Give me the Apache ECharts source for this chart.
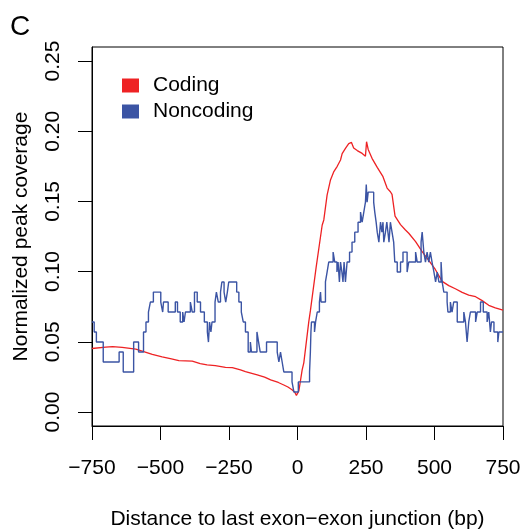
<!DOCTYPE html>
<html>
<head>
<meta charset="utf-8">
<script src="https://cdn.jsdelivr.net/npm/echarts@6/dist/echarts.min.js"></script>
<style>
  html, body { margin: 0; padding: 0; background: #fff; }
  #chart { width: 523px; height: 529px; }
</style>
</head>
<body>
<div id="chart"></div>
<script>
// x ticks and y ticks
const xTicks = [-750, -500, -250, 0, 250, 500, 750];
const yTicks = [0, 0.05, 0.1, 0.15, 0.2, 0.25];

// Coding: smooth profile, read at sample positions (bp)
const codingX = [-750, -700, -675, -640, -590, -567, -530, -494, -460, -433, -384, -355, -330, -300, -263, -238, -208, -190, -147, -120, -98, -70, -50, -35, -20, -10, -4, 0, 5, 17, 23, 41, 47, 68, 90, 96, 108, 120, 132, 145, 157, 163, 175, 187, 197, 205, 218, 236, 248, 252, 258, 272, 291, 312, 327, 339, 345, 352, 356, 376, 394, 406, 431, 455, 479, 503, 528, 552, 576, 601, 625, 650, 674, 698, 722, 750];
const codingY = [0.0452, 0.0462, 0.0466, 0.0460, 0.0448, 0.0434, 0.0410, 0.0392, 0.0378, 0.0366, 0.0362, 0.0345, 0.0335, 0.0330, 0.0318, 0.0316, 0.0299, 0.0288, 0.0264, 0.0248, 0.0228, 0.0210, 0.0192, 0.0178, 0.0158, 0.0140, 0.0118, 0.0108, 0.0150, 0.0300, 0.0350, 0.0640, 0.0720, 0.1030, 0.1330, 0.1368, 0.1545, 0.1650, 0.1710, 0.1750, 0.1795, 0.1840, 0.1878, 0.1912, 0.1920, 0.1880, 0.1862, 0.1842, 0.1822, 0.1925, 0.1870, 0.1807, 0.1742, 0.1676, 0.1595, 0.1569, 0.1550, 0.1545, 0.1395, 0.1335, 0.1296, 0.1273, 0.1213, 0.1142, 0.1080, 0.1015, 0.0930, 0.0900, 0.0878, 0.0852, 0.0833, 0.0821, 0.0793, 0.0760, 0.0742, 0.0726];

// Noncoding: step profile, x = where each level starts
const noncodingX = [-750, -742, -734, -709, -651, -636, -598, -580, -562, -553, -544, -537, -526, -499, -492, -489, -472, -446, -438, -428, -419, -414, -409, -391, -384, -376, -366, -354, -340, -329, -325, -321, -316, -312, -301, -296, -289, -281, -276, -268, -262, -256, -251, -222, -214, -205, -198, -190, -180, -172, -168, -148, -142, -136, -113, -74, -68, -62, -56, -50, -20, -13, 3, 44, 47, 49, 51, 62, 66, 72, 80, 84, 86, 102, 108, 114, 130, 136, 144, 148, 153, 157, 162, 166, 170, 175, 181, 190, 199, 209, 221, 230, 236, 242, 248, 251, 254, 258, 278, 282, 287, 291, 297, 303, 308, 312, 315, 321, 326, 330, 334, 339, 345, 351, 355, 364, 376, 385, 400, 406, 431, 437, 451, 455, 461, 467, 473, 479, 485, 491, 498, 504, 510, 516, 524, 528, 534, 546, 549, 558, 564, 570, 583, 607, 613, 619, 625, 631, 650, 656, 668, 678, 692, 698, 704, 708, 717, 731, 735, 750];
const noncodingY = [0.0641, 0.0570, 0.0498, 0.0356, 0.0427, 0.0285, 0.0498, 0.0427, 0.0570, 0.0641, 0.0712, 0.0783, 0.0854, 0.0783, 0.0712, 0.0783, 0.0712, 0.0783, 0.0712, 0.0641, 0.0712, 0.0641, 0.0712, 0.0783, 0.0712, 0.0854, 0.0783, 0.0712, 0.0641, 0.0570, 0.0498, 0.0641, 0.0570, 0.0641, 0.0783, 0.0854, 0.0783, 0.0854, 0.0926, 0.0854, 0.0783, 0.0854, 0.0926, 0.0854, 0.0783, 0.0712, 0.0641, 0.0570, 0.0427, 0.0498, 0.0427, 0.0570, 0.0498, 0.0427, 0.0498, 0.0427, 0.0356, 0.0427, 0.0356, 0.0285, 0.0214, 0.0142, 0.0214, 0.0285, 0.0427, 0.0570, 0.0641, 0.0570, 0.0641, 0.0712, 0.0783, 0.0854, 0.0783, 0.0926, 0.0997, 0.1068, 0.1139, 0.1068, 0.0997, 0.1068, 0.0926, 0.1068, 0.0997, 0.0926, 0.1068, 0.0926, 0.1068, 0.1139, 0.1210, 0.1281, 0.1352, 0.1424, 0.1352, 0.1424, 0.1495, 0.1620, 0.1495, 0.1566, 0.1495, 0.1424, 0.1352, 0.1281, 0.1210, 0.1352, 0.1281, 0.1352, 0.1210, 0.1281, 0.1352, 0.1281, 0.1210, 0.1352, 0.1281, 0.1210, 0.1068, 0.0997, 0.1068, 0.1139, 0.0997, 0.1068, 0.1139, 0.1068, 0.1210, 0.1281, 0.1139, 0.1068, 0.1139, 0.1068, 0.1139, 0.1068, 0.0997, 0.0926, 0.0997, 0.0926, 0.1068, 0.0926, 0.0854, 0.0783, 0.0712, 0.0783, 0.0712, 0.0783, 0.0641, 0.0712, 0.0641, 0.0498, 0.0641, 0.0712, 0.0641, 0.0712, 0.0783, 0.0712, 0.0641, 0.0712, 0.0570, 0.0641, 0.0570, 0.0498, 0.0570, 0.0570];

const FONT = 'Liberation Sans, Arial, Helvetica, sans-serif';
const minus = (s) => String(s).replace('-', '\u2212');

const chart = echarts.init(document.getElementById('chart'), null, { renderer: 'canvas' });

chart.setOption({
  animation: false,
  backgroundColor: '#fff',
  textStyle: { fontFamily: FONT, color: '#000' },
  title: {
    text: 'C', left: 5, top: 8,
    textStyle: { fontFamily: FONT, fontSize: 28, fontWeight: 'normal', color: '#000' }
  },
  legend: {
    orient: 'vertical', left: 117, top: 70,
    itemWidth: 17, itemHeight: 14, itemGap: 5,
    icon: 'rect',
    textStyle: { fontFamily: FONT, fontSize: 21, color: '#000', padding: [0, 0, 0, 9] },
    data: ['Coding', 'Noncoding']
  },
  grid: {
    left: 92, right: 20, top: 47, bottom: 103,
    outerBoundsMode: 'none',
    show: true, borderColor: '#000', borderWidth: 1
  },
  xAxis: {
    type: 'value', min: -750, max: 750, interval: 250,
    name: 'Distance to last exon\u2212exon junction (bp)',
    nameLocation: 'middle', nameGap: 83,
    nameTextStyle: { fontFamily: FONT, fontSize: 21, color: '#000' },
    axisLine: { show: true, onZero: false, lineStyle: { color: '#000', width: 1 } },
    axisTick: { show: true, length: 14, lineStyle: { color: '#000', width: 1 } },
    axisLabel: { fontFamily: FONT, fontSize: 21, color: '#000', margin: 32, formatter: minus,
      customValues: xTicks },
    splitLine: { show: false }
  },
  yAxis: {
    type: 'value', min: -0.01, max: 0.26,
    name: 'Normalized peak coverage',
    nameLocation: 'middle', nameGap: 60,
    nameTextStyle: { fontFamily: FONT, fontSize: 21, color: '#000' },
    axisLine: { show: true, onZero: false, lineStyle: { color: '#000', width: 1 } },
    axisTick: { show: true, length: 14, customValues: yTicks, lineStyle: { color: '#000', width: 1 } },
    axisLabel: { fontFamily: FONT, fontSize: 21, color: '#000', margin: 28, rotate: 90,
      customValues: yTicks, formatter: (v) => v.toFixed(2) },
    splitLine: { show: false }
  },
  series: [
    {
      name: 'Coding', type: 'line', showSymbol: false,
      data: codingX.map((x, i) => [x, codingY[i]]),
      itemStyle: { color: '#ee2224' },
      lineStyle: { color: '#ee2224', width: 1.3 }
    },
    {
      name: 'Noncoding', type: 'line', showSymbol: false, step: 'end',
      data: noncodingX.map((x, i) => [x, noncodingY[i]]),
      itemStyle: { color: '#3b54a4' },
      lineStyle: { color: '#3b54a4', width: 1.4 }
    }
  ]
});
</script>
</body>
</html>
